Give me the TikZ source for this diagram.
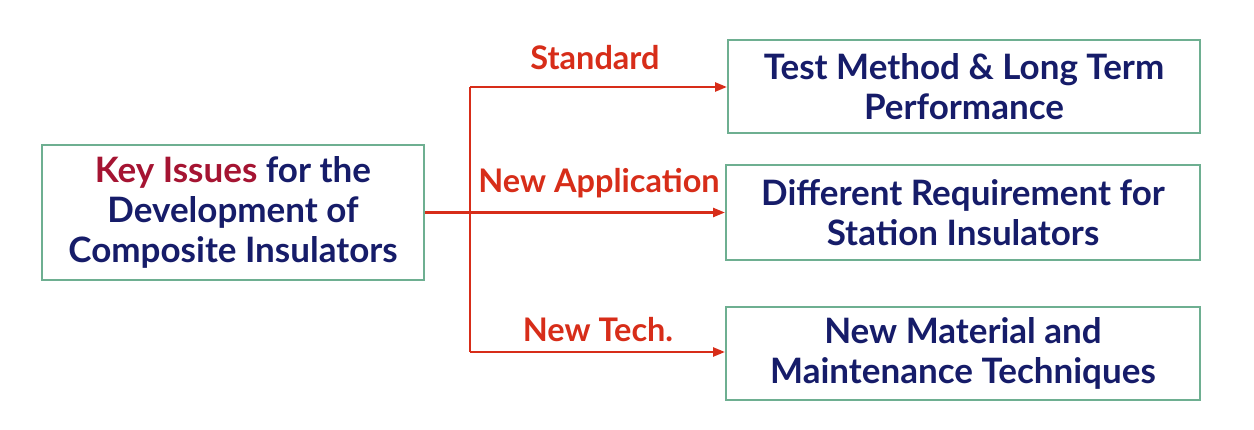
\documentclass[tikz,border=0pt]{standalone}
\usepackage{fontspec}
\setmainfont{Lato}
\usetikzlibrary{arrows.meta}
\definecolor{navy}{RGB}{22,28,105}
\definecolor{keyred}{RGB}{165,20,50}
\definecolor{lred}{RGB}{215,45,25}
\definecolor{bgreen}{RGB}{110,175,145}
\tikzset{
  box/.style={draw=bgreen,line width=2pt,text=navy,align=center,font=\bfseries\fontsize{35}{40}\selectfont,inner sep=0pt},
  lab/.style={text=lred,font=\bfseries\fontsize{32.5}{38}\selectfont},
  conn/.style={draw=lred,line width=2.5pt,-{Triangle[length=12pt,width=9pt]}}
}
\begin{document}
\begin{tikzpicture}[x=1pt,y=-1pt]
\useasboundingbox (0,0) rectangle (1254,430);
\node[box,minimum width=382pt,minimum height=135pt] (k) at (233,212.5) {{\color{keyred}Key Issues} for the\\Development of\\Composite Insulators};
\node[box,minimum width=472pt,minimum height=93pt] (a) at (964,86.5) {Test Method \& Long Term\\Performance};
\node[box,minimum width=474pt,minimum height=95pt] (b) at (963,212.5) {Different Requirement for\\Station Insulators};
\node[box,minimum width=474pt,minimum height=93pt] (c) at (963,353.5) {New Material and\\Maintenance Techniques};
\coordinate (t) at (470,87);
\coordinate (u) at (470,352);
\draw[conn] (k.east) -- (b.west);
\draw[draw=lred,line width=2.5pt] (t) -- (u);
\draw[conn] (t) -- (a.west|-t);
\draw[conn] (u) -- (c.west|-u);
\node[lab] (l1) at (595,58) {Standard};
\node[lab] (l2) at (599,183) {New Application};
\node[lab] (l3) at (598,330) {New Tech.};
\end{tikzpicture}
\end{document}
